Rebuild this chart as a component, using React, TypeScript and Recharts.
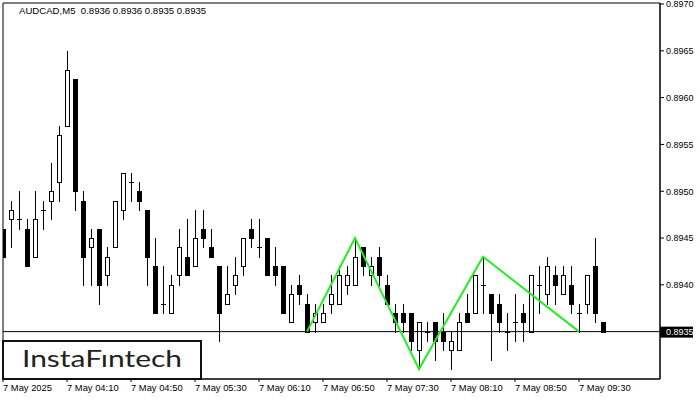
import { ComposedChart, Bar, Line, XAxis, YAxis, ReferenceLine, ReferenceArea } from 'recharts'

// AUDCAD M5, 7 May 2025 03:30 - 09:45, one entry per candle
const opens = [
  0.8946, 0.8947, 0.8947, 0.8946, 0.8943, 0.8948, 0.8949, 0.8951, 0.8957, 0.8962,
  0.8949, 0.8944, 0.8946, 0.8941, 0.8944, 0.8948, 0.8951, 0.895, 0.8948, 0.8942,
  0.8938, 0.8937, 0.8941, 0.8943, 0.8942, 0.8946, 0.8944, 0.8942, 0.8938, 0.894,
  0.8942, 0.8946, 0.8944, 0.8945, 0.8942, 0.8942, 0.8936, 0.894, 0.8938, 0.8936,
  0.8936, 0.8938, 0.8938, 0.894, 0.894, 0.8944, 0.8941, 0.8943, 0.894, 0.8937,
  0.8937, 0.8937, 0.8933, 0.8935, 0.8936, 0.8935, 0.8933, 0.8933, 0.8937, 0.8937,
  0.894, 0.8939, 0.8938, 0.8935, 0.8936, 0.8937, 0.8935, 0.894, 0.8939, 0.8941,
  0.8939, 0.894, 0.8937, 0.8938, 0.8942, 0.8936,
]
const highs = [
  0.8946, 0.8949, 0.895, 0.8947, 0.895, 0.8949, 0.8953, 0.8957, 0.8965, 0.8962,
  0.895, 0.8946, 0.8946, 0.8944, 0.8949, 0.8952, 0.8952, 0.8951, 0.8948, 0.8945,
  0.8942, 0.8941, 0.8946, 0.8947, 0.8948, 0.8948, 0.8946, 0.8942, 0.8942, 0.8943,
  0.8945, 0.8947, 0.8947, 0.8945, 0.8944, 0.8942, 0.894, 0.8941, 0.8939, 0.8938,
  0.8938, 0.8941, 0.8942, 0.8942, 0.8945, 0.8944, 0.8943, 0.8944, 0.8941, 0.8938,
  0.8938, 0.8937, 0.8936, 0.8936, 0.8936, 0.8937, 0.8935, 0.8937, 0.8939, 0.8941,
  0.8943, 0.8939, 0.8939, 0.8937, 0.8939, 0.8938, 0.8941, 0.8942, 0.8943, 0.8942,
  0.8942, 0.8942, 0.8938, 0.8941, 0.8945, 0.8936,
]
const lows = [
  0.8943, 0.8944, 0.8946, 0.8942, 0.8943, 0.8946, 0.8947, 0.8949, 0.8957, 0.8948,
  0.894, 0.894, 0.8938, 0.894, 0.8944, 0.8947, 0.8949, 0.8948, 0.894, 0.8937,
  0.8937, 0.8937, 0.894, 0.8941, 0.8942, 0.8944, 0.8943, 0.8934, 0.8938, 0.8939,
  0.8941, 0.8944, 0.8943, 0.8941, 0.894, 0.8937, 0.8936, 0.8938, 0.8935, 0.8935,
  0.8936, 0.8937, 0.8938, 0.8939, 0.894, 0.8941, 0.894, 0.894, 0.8938, 0.8935,
  0.8935, 0.8933, 0.8931, 0.8934, 0.8932, 0.8933, 0.8931, 0.8933, 0.8936, 0.8937,
  0.8937, 0.8932, 0.8935, 0.8933, 0.8934, 0.8934, 0.8935, 0.8937, 0.8938, 0.8938,
  0.8939, 0.8937, 0.8935, 0.8937, 0.8936, 0.8935,
]
const closes = [
  0.8943, 0.8948, 0.8947, 0.8942, 0.8947, 0.8948, 0.895, 0.8956, 0.8963, 0.895,
  0.8943, 0.8945, 0.894, 0.8943, 0.8949, 0.8952, 0.8951, 0.8949, 0.8943, 0.8937,
  0.8938, 0.894, 0.8944, 0.8941, 0.8945, 0.8945, 0.8943, 0.8937, 0.8939, 0.8941,
  0.8945, 0.8945, 0.8944, 0.8941, 0.8941, 0.8937, 0.8939, 0.8939, 0.8935, 0.8937,
  0.8937, 0.8939, 0.8941, 0.8941, 0.8943, 0.8942, 0.8942, 0.8941, 0.8938, 0.8936,
  0.8936, 0.8934, 0.8936, 0.8935, 0.8934, 0.8934, 0.8934, 0.8936, 0.8936, 0.8941,
  0.894, 0.8937, 0.8936, 0.8935, 0.8936, 0.8936, 0.8941, 0.894, 0.8942, 0.894,
  0.8941, 0.8938, 0.8937, 0.8941, 0.8937, 0.8935,
]

const timeLabels = [
  '7 May 2025', '7 May 04:10', '7 May 04:50', '7 May 05:30', '7 May 06:10',
  '7 May 06:50', '7 May 07:30', '7 May 08:10', '7 May 08:50', '7 May 09:30',
]
const timeTicks = [0, 8, 16, 24, 32, 40, 48, 56, 64, 72]
const priceTicks = [0.894, 0.8945, 0.895, 0.8955, 0.896, 0.8965, 0.897]

// green pattern outline: candle index -> price
const patternIdx = [38, 44, 52, 60, 72]
const patternPrices = [0.8935, 0.8945, 0.8931, 0.8943, 0.8935]

const lastPrice = 0.8935
const title = 'AUDCAD,M5  0.8936 0.8936 0.8935 0.8935'

const X_MAX = 82.125
const Y_MIN = 0.892994
const Y_MAX = 0.897011
const FONT = '"Liberation Sans", Arial, sans-serif'

const data = opens.map((o, i) => {
  const p = patternIdx.indexOf(i)
  return { i, o, h: highs[i], l: lows[i], c: closes[i], pattern: p >= 0 ? patternPrices[p] : null }
})

function Candle(props: any) {
  const { x, y, width, height, payload } = props
  if (x == null || payload == null) return null
  const cx = Math.round(x + width / 2)
  const top = Math.min(y, y + height)
  const bot = Math.max(y, y + height)
  const span = payload.h - payload.l
  const yOf = (p: number) => Math.round(span === 0 ? top : top + ((payload.h - p) / span) * (bot - top))
  const yO = yOf(payload.o)
  const yC = yOf(payload.c)
  const bTop = Math.min(yO, yC)
  const bBot = Math.max(yO, yC)
  let body
  if (payload.c > payload.o) {
    body = <rect x={cx - 1.5} y={bTop + 0.5} width={4} height={Math.max(bBot - bTop, 1)} fill="#fff" stroke="#000" strokeWidth={1} />
  } else if (payload.c < payload.o) {
    body = <rect x={cx - 2} y={bTop} width={5} height={bBot - bTop + 1} fill="#000" />
  } else {
    body = <line x1={cx - 2} x2={cx + 3} y1={bTop + 0.5} y2={bTop + 0.5} stroke="#000" strokeWidth={1} />
  }
  return (
    <g>
      <line x1={cx + 0.5} x2={cx + 0.5} y1={yOf(payload.h)} y2={yOf(payload.l) + 1} stroke="#000" strokeWidth={1} />
      {body}
    </g>
  )
}

function TimeTick({ x, y, payload }: any) {
  return (
    <text x={x} y={y + 7} fontSize={9.4} fontFamily={FONT} fill="#000" textAnchor="start">
      {timeLabels[timeTicks.indexOf(payload.value)]}
    </text>
  )
}

function PriceTick({ x, y, payload }: any) {
  return (
    <text x={x} y={y + 3.3} fontSize={9} fontFamily={FONT} fill="#000" textAnchor="start">
      {payload.value.toFixed(4)}
    </text>
  )
}

function PriceTag({ viewBox }: any) {
  if (!viewBox) return null
  const right = viewBox.x + viewBox.width
  return (
    <g>
      <rect x={right} y={viewBox.y - 5} width={33} height={11} fill="#000" />
      <text x={right + 6} y={viewBox.y + 3.3} fontSize={9} fontFamily={FONT} fill="#fff">
        {lastPrice.toFixed(4)}
      </text>
    </g>
  )
}

export default function App() {
  return (
    <div style={{ position: 'absolute', left: 0, top: 0, width: 700, height: 400, background: '#fff' }}>
      <ComposedChart width={700} height={400} data={data} margin={{ top: 3, right: 3, bottom: 3, left: 3 }}>
        <ReferenceArea x1={0} x2={X_MAX} y1={Y_MIN} y2={Y_MAX} fill="none" stroke="#000" strokeWidth={1} />
        <XAxis
          dataKey="i"
          type="number"
          domain={[0, X_MAX]}
          ticks={timeTicks}
          interval={0}
          allowDataOverflow
          height={18}
          tickSize={3}
          tickLine={{ stroke: '#000' }}
          axisLine={{ stroke: '#000' }}
          tick={<TimeTick />}
        />
        <YAxis
          orientation="right"
          type="number"
          domain={[Y_MIN, Y_MAX]}
          ticks={priceTicks}
          interval={0}
          allowDataOverflow
          width={37}
          tickSize={4}
          tickLine={{ stroke: '#000' }}
          axisLine={{ stroke: '#000' }}
          tick={<PriceTick />}
        />
        <Bar dataKey={(d: any) => [d.l, d.h]} barSize={5} shape={<Candle />} isAnimationActive={false} />
        <ReferenceLine y={lastPrice} stroke="#000" strokeWidth={1} label={<PriceTag />} />
        <Line
          dataKey="pattern"
          type="linear"
          stroke="#22ee22"
          strokeWidth={2}
          dot={false}
          connectNulls
          isAnimationActive={false}
        />
      </ComposedChart>
      <div style={{ position: 'absolute', left: 19, top: 5, font: `9.6px ${FONT}`, lineHeight: '11px', color: '#000', whiteSpace: 'pre' }}>
        {title}
      </div>
      <div
        style={{
          position: 'absolute', left: 2, top: 340, width: 200, height: 40, boxSizing: 'border-box',
          border: '2px solid #111', background: '#fff',
        }}
      >
        <svg width={196} height={36} style={{ display: 'block' }}>
          <text x={18} y={25} fontSize={24} fontFamily="Lato, 'Open Sans', sans-serif" fill="#222" textLength={160} lengthAdjust="spacingAndGlyphs">
            InstaFıntech
          </text>
        </svg>
      </div>
    </div>
  )
}
